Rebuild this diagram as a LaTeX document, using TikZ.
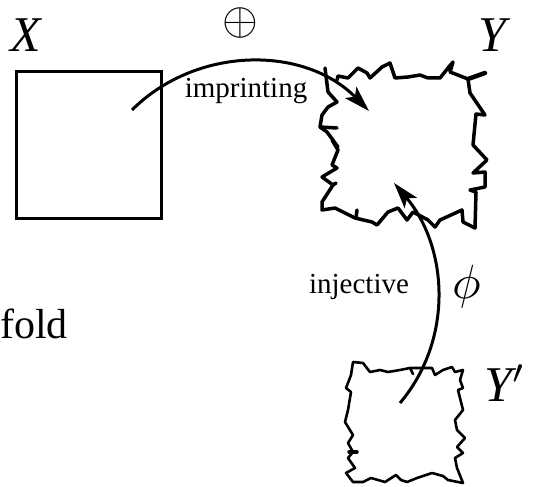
\documentclass[tikz,border=0pt]{standalone}
\usepackage{graphicx}
\usepackage{fontspec}
\setmainfont{Liberation Serif}
\usetikzlibrary{arrows.meta}
\newcommand{\bigsym}[2]{{\fontsize{10}{12}\selectfont\scalebox{#1}{$#2$}}}
\begin{document}
\begin{tikzpicture}[x=1pt,y=-1pt,
  big/.style={font=\fontsize{50}{52}\selectfont, inner sep=0pt},
  mid/.style={font=\fontsize{42}{44}\selectfont, inner sep=0pt},
  small/.style={font=\fontsize{29}{31}\selectfont, inner sep=0pt},
  mathsym/.style={font=\fontsize{10}{12}\selectfont, inner sep=0pt},
  arr/.style={line width=3pt, -{Stealth[length=26pt,width=16pt,inset=6pt]}},
  rough/.style={line width=3.5pt, line join=round, line cap=round},
  roughthin/.style={line width=2.6pt, line join=round, line cap=round},
  boxx/.style={draw, line width=3pt, minimum width=145pt, minimum height=147pt, inner sep=0pt}]
\useasboundingbox (0,0) rectangle (534,486);

% square X
\node[boxx] (Xbox) at (89,145) {};

% rough Y
\draw[rough] (337,80) -- (338,76) -- (348,78) -- (358,68) -- (367,73) -- (370,78) -- (382,67)
  -- (390,63) -- (395,78) -- (408,77) -- (420,75) -- (428,78) -- (440,78) -- (448,68)
  -- (453,62) -- (450,72) -- (468,79) -- (470,93) -- (485,115) -- (476,114) -- (473,145)
  -- (487,160) -- (473,173) -- (485,172) -- (485,187) -- (470,190) -- (476,192) -- (475,228)
  -- (463,222) -- (462,210) -- (440,220) -- (435,227) -- (428,220) -- (413,212) -- (407,220)
  -- (398,208) -- (388,212) -- (377,225) -- (372,222) -- (355,218) -- (335,208) -- (322,210)
  -- (322,202) -- (333,185) -- (322,177) -- (337,168) -- (332,165) -- (338,150) -- (332,140)
  -- (338,147) -- (327,132) -- (320,127) -- (322,115) -- (328,107) -- (337,102) -- (328,92)
  -- (325,68);
\draw[rough, line width=4.5pt] (468,79) -- (485,73);
\draw[rough] (320,127) -- (337,128);
\draw[rough] (357,210) -- (356,218);
\draw[rough] (333,185) -- (336,183);

% rough Y'
\draw[roughthin] (353,362) -- (363,363) -- (370,372) -- (380,370) -- (388,372) -- (400,370)
  -- (410,368) -- (420,368) -- (432,368) -- (435,375) -- (443,370) -- (452,367) -- (455,372)
  -- (463,370) -- (460,380) -- (463,388) -- (458,390) -- (463,410) -- (455,420) -- (457,430)
  -- (465,438) -- (457,447) -- (463,453) -- (455,458) -- (457,468) -- (463,483) -- (448,480)
  -- (443,476) -- (432,473) -- (417,478) -- (407,482) -- (401,480) -- (396,475) -- (385,482)
  -- (371,478) -- (363,482) -- (353,482) -- (346,473) -- (355,468) -- (348,458) -- (353,452)
  -- (348,443) -- (353,435) -- (345,422) -- (348,410) -- (351,392) -- (346,388) -- (351,375)
  -- cycle;
\draw[roughthin, line width=3.5pt] (349,452) -- (357,452);
\draw[roughthin] (410,368) -- (413,374);

% labels
\node[big, anchor=base] (lX) at (26,52) {\itshape X};
\node[big, anchor=base] (lY) at (492,52) {\itshape Y};
\node[big, anchor=base west] (lYp) at (484,401) {\itshape Y\bigsym{4.8}{'}};
\node[mid, anchor=base west] (lfold) at (0,338) {fold};
\node[small, anchor=base] (limp) at (246,98) {imprinting};
\node[small, anchor=base] (linj) at (359,293) {injective};
\node[mathsym, anchor=base] (lphi) at (467,298) {\bigsym{4.8}{\phi}};
\node[mathsym, anchor=base] (lplus) at (240,35) {\bigsym{4.6}{\oplus}};

% arrows
\coordinate (impS) at (132,110);
\coordinate (impE) at (369,111);
\draw[arr] (impS) .. controls (196,46) and (304,45) .. (impE);
\coordinate (injS) at (400,403);
\coordinate (injE) at (394,183);
\draw[arr] (injS) .. controls (454,339) and (448,247) .. (injE);
\end{tikzpicture}
\end{document}
